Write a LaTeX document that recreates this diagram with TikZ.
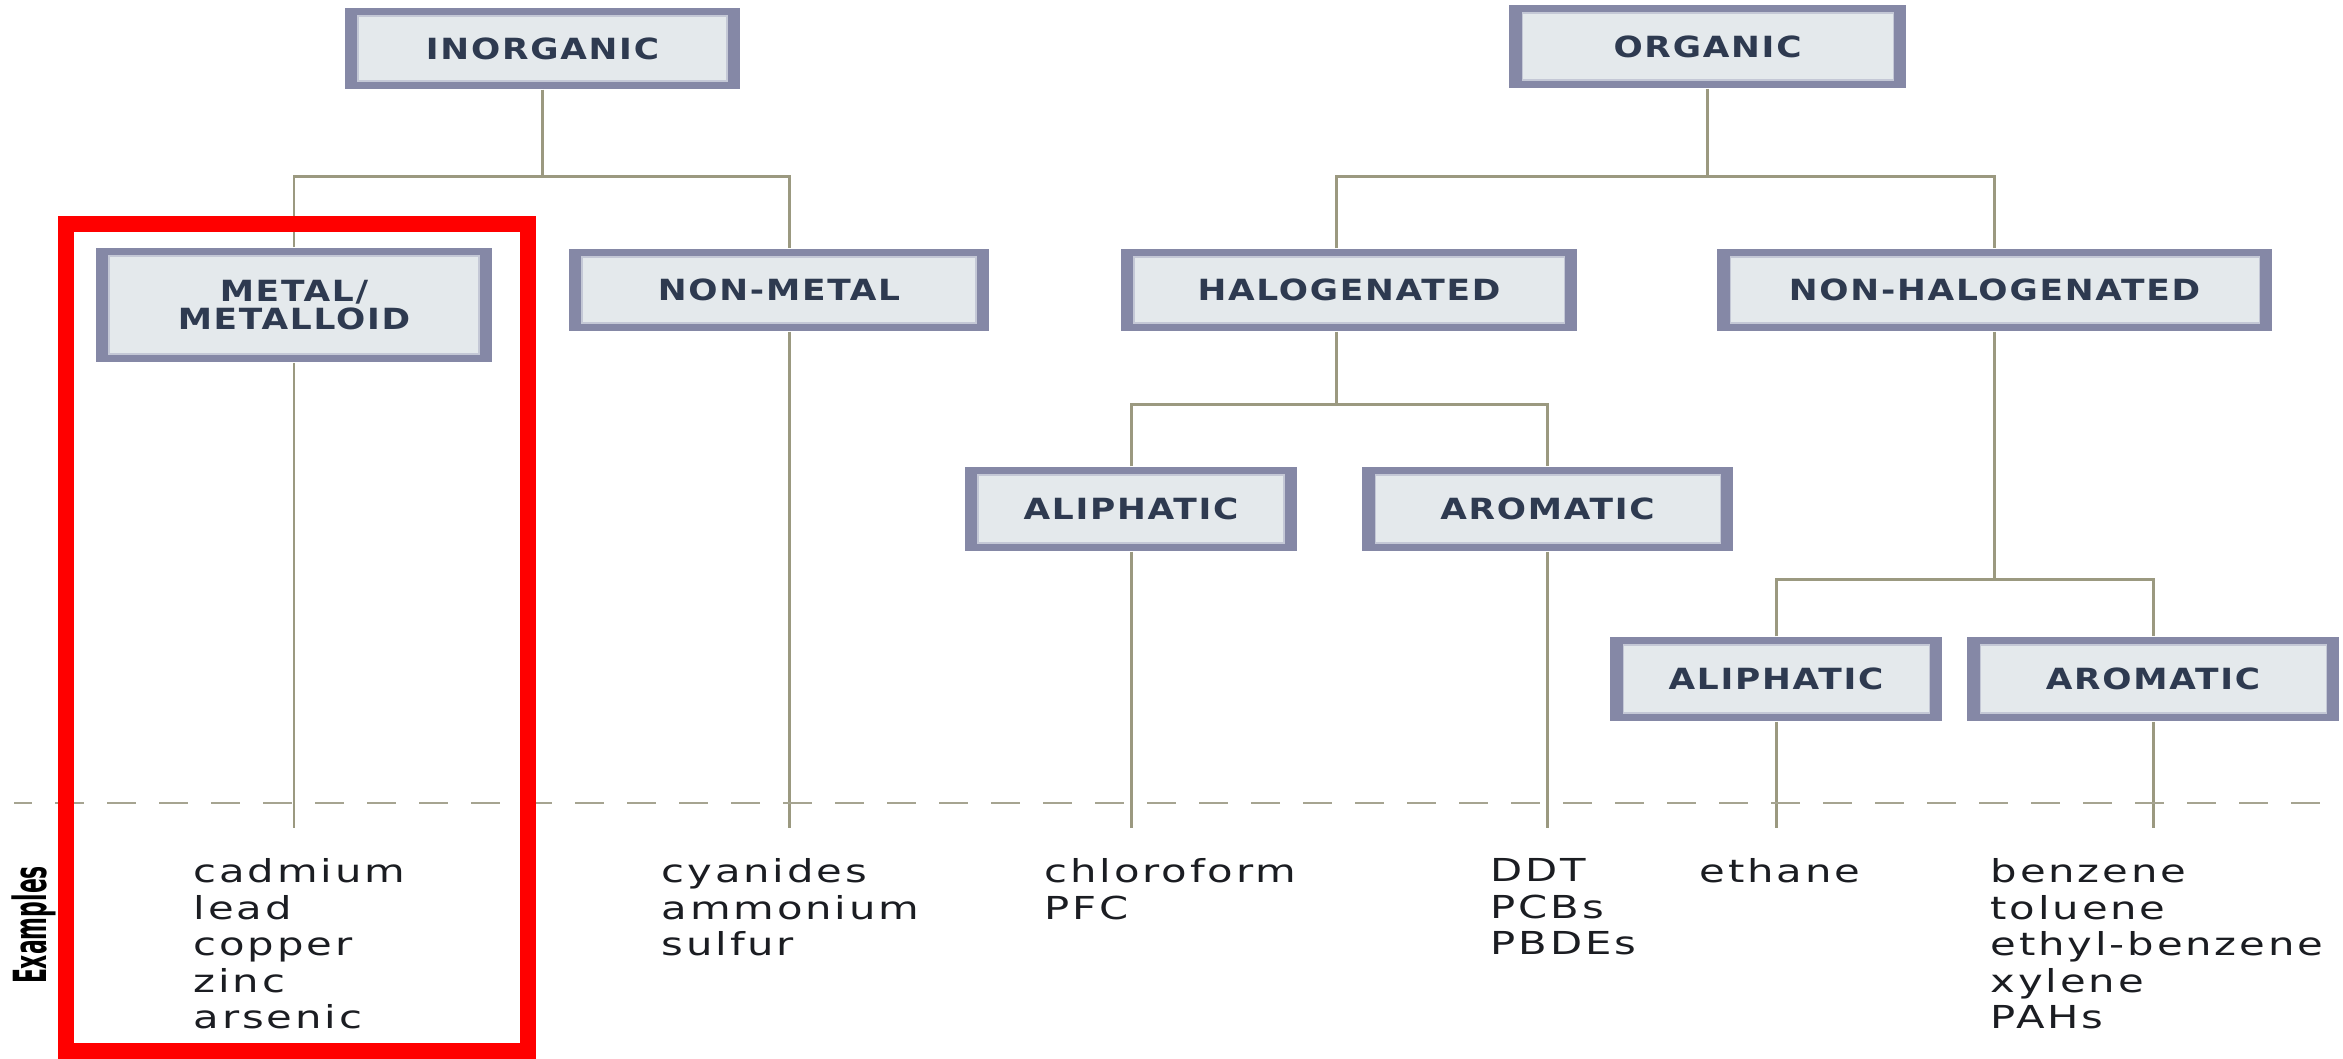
\documentclass[tikz,border=0pt]{standalone}
\usepackage{fontspec}
\newfontfamily\catfont{DejaVu Sans}[FakeStretch=1.18,LetterSpace=6]
\newfontfamily\exfont{DejaVu Sans}[FakeStretch=1.32,LetterSpace=9]
\newfontfamily\tagfont{DejaVu Sans}[FakeStretch=0.48]
\definecolor{boxedge}{RGB}{133,136,166}
\definecolor{boxfill}{RGB}{228,233,236}
\definecolor{boxline}{RGB}{196,200,214}
\definecolor{labeltext}{RGB}{46,58,80}
\definecolor{wirecol}{RGB}{155,153,128}
\definecolor{cutcol}{RGB}{166,164,145}
\definecolor{extext}{RGB}{27,29,34}
\begin{document}
\begin{tikzpicture}[x=0.1mm, y=-0.1mm,
    catbox/.style={fill=boxedge, inner sep=0pt, align=center, text=labeltext,
      font=\catfont\bfseries\fontsize{8.3}{8.2}\selectfont,
      path picture={\fill[boxfill, draw=boxline, line width=0.3pt]
        ([xshift=1.3mm,yshift=0.8mm]path picture bounding box.south west) rectangle
        ([xshift=-1.3mm,yshift=-0.8mm]path picture bounding box.north east);}},
    wire/.style={draw=wirecol, line width=0.85pt},
    exlist/.style={anchor=north west, inner sep=0pt, align=left, text=extext,
      font=\exfont\fontsize{9}{10.4}\selectfont}]
    \useasboundingbox (0,0) rectangle (2343,1058);
    % Top level
    \node[catbox, minimum width=39.5mm, minimum height=8.1mm] (inorg) at (542.5,48.5) {INORGANIC};
    \node[catbox, minimum width=39.7mm, minimum height=8.3mm] (organic) at (1707.5,46.5) {ORGANIC};
    % Second level
    \node[catbox, minimum width=39.6mm, minimum height=11.4mm] (metal) at (294,305) {METAL/\\METALLOID};
    \node[catbox, minimum width=42mm, minimum height=8.2mm] (nonmetal) at (779,290) {NON-METAL};
    \node[catbox, minimum width=45.6mm, minimum height=8.2mm] (halo) at (1349,290) {HALOGENATED};
    \node[catbox, minimum width=55.5mm, minimum height=8.2mm] (nonhalo) at (1994.5,290) {NON-HALOGENATED};
    % Third level
    \node[catbox, minimum width=33.2mm, minimum height=8.4mm] (haloAli) at (1131,509) {ALIPHATIC};
    \node[catbox, minimum width=37.1mm, minimum height=8.4mm] (haloAro) at (1547.5,509) {AROMATIC};
    \node[catbox, minimum width=33.2mm, minimum height=8.4mm] (nonhaloAli) at (1776,679) {ALIPHATIC};
    \node[catbox, minimum width=37.2mm, minimum height=8.4mm] (nonhaloAro) at (2153,679) {AROMATIC};
    % Bars and line ends
    \coordinate (topbar) at (0,176);
    \coordinate (halobar) at (0,404);
    \coordinate (nonhalobar) at (0,579);
    \coordinate (cut) at (0,828);
    % Tree lines
    \draw[wire] (inorg.south) -- (inorg.south |- topbar);
    \draw[wire] (metal.north) |- (inorg.south |- topbar) -| ([xshift=1mm]nonmetal.north);
    \draw[wire] (organic.south) -- (organic.south |- topbar);
    \draw[wire] ([xshift=-1.3mm]halo.north) |- (organic.south |- topbar) -| (nonhalo.north);
    \draw[wire] ([xshift=-1.3mm]halo.south) -- ([xshift=-1.3mm]halo.south |- halobar);
    \draw[wire] (haloAli.north) |- ([xshift=-1.3mm]halo.south |- halobar) -| (haloAro.north);
    \draw[wire] (nonhalo.south) -- (nonhalo.south |- nonhalobar);
    \draw[wire] (nonhaloAli.north) |- (nonhalo.south |- nonhalobar) -| (nonhaloAro.north);
    % Lines down to the examples
    \draw[wire] (metal.south) -- (metal.south |- cut);
    \draw[wire] ([xshift=1mm]nonmetal.south) -- ([xshift=1mm]nonmetal.south |- cut);
    \draw[wire] (haloAli.south) -- (haloAli.south |- cut);
    \draw[wire] (haloAro.south) -- (haloAro.south |- cut);
    \draw[wire] (nonhaloAli.south) -- (nonhaloAli.south |- cut);
    \draw[wire] (nonhaloAro.south) -- (nonhaloAro.south |- cut);
    % Dashed divider
    \draw[cutcol, line width=0.7pt, dash pattern=on 2.9mm off 2.3mm, dash phase=1.1mm] (14,803) -- (2343,803);
    % Examples
    \node[rotate=90, inner sep=0pt, font=\tagfont\bfseries\fontsize{13}{14}\selectfont] (exTag) at (34,925) {Examples};
    \node[exlist] (exMetal) at (193,858) {cadmium\\lead\\copper\\zinc\\arsenic};
    \node[exlist] (exNonmetal) at (661,858) {cyanides\\ammonium\\sulfur};
    \node[exlist] (exHaloAli) at (1044,858) {chloroform\\PFC};
    \node[exlist] (exHaloAro) at (1490,858) {DDT\\PCBs\\PBDEs};
    \node[exlist] (exNonhaloAli) at (1699,858) {ethane};
    \node[exlist] (exNonhaloAro) at (1990,858) {benzene\\toluene\\ethyl-benzene\\xylene\\PAHs};
    % Highlight
    \draw[red, line width=1.6mm] (66,224) rectangle (528,1051);
\end{tikzpicture}
\end{document}
